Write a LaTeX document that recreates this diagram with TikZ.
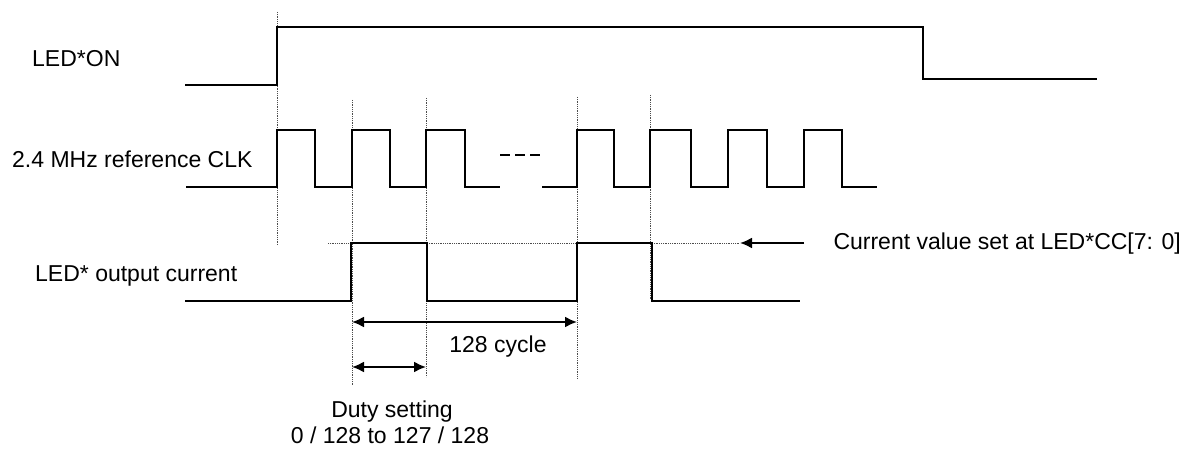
\documentclass[tikz,border=0pt]{standalone}
\usepackage{fontspec}
\setmainfont{Liberation Sans}
\usetikzlibrary{arrows.meta}
\begin{document}
\begin{tikzpicture}[x=1pt,y=-1pt,
  sig/.style={line width=2pt,line join=miter},
  guide/.style={densely dotted,line width=0.8pt,black!70},
  dimarrow/.style={line width=2pt,{Latex[length=12pt,width=11pt]}-{Latex[length=12pt,width=11pt]}},
  ptr/.style={line width=2pt,-{Latex[length=12pt,width=11pt]}},
  lbl/.style={inner sep=0pt,font=\fontsize{23}{26}\selectfont}]
\useasboundingbox (0,0) rectangle (1189,449);
% guide lines
\draw[guide] (277,12) -- (277,245);
\draw[guide] (352,100) -- (352,385);
\draw[guide] (426,98) -- (426,377);
\draw[guide] (577,97) -- (577,379);
\draw[guide] (650,95) -- (650,300);
\draw[guide] (328,243) -- (740,243);
% LED*ON
\draw[sig] (185,85) -- (277,85) -- (277,27) -- (923,27) -- (923,79) -- (1097,79);
% clock
\draw[sig] (186,187) -- (277,187) -- (277,130) -- (315,130) -- (315,187) -- (352,187) -- (352,130) -- (390,130) -- (390,187) -- (426,187) -- (426,130) -- (465,130) -- (465,187) -- (500,187);
\draw[line width=1.5pt,dash pattern=on 10pt off 5pt] (500,155) -- (542,155);
\draw[sig] (542,187) -- (577,187) -- (577,130) -- (614,130) -- (614,187) -- (650,187) -- (650,130) -- (691,130) -- (691,187) -- (728,187) -- (728,130) -- (767,130) -- (767,187) -- (804,187) -- (804,130) -- (842,130) -- (842,187) -- (877,187);
% LED output current
\draw[sig] (185,301) -- (351,301) -- (351,243) -- (427,243) -- (427,301) -- (577,301) -- (577,243) -- (652,243) -- (652,301) -- (800,301);
% labels
\node[lbl,anchor=base west] (lon) at (32,67) {LED*ON};
\node[lbl,anchor=base west] (lclk) at (12,168) {2.4 MHz reference CLK};
\node[lbl,anchor=base west] (lout) at (35,281) {LED* output current};
\node[lbl,anchor=base east] (lcur) at (1181,250) {Current value set at LED*CC[7: 0]};
\node[lbl,anchor=base] (lcyc) at (498,352) {128 cycle};
\node[lbl,anchor=base] (lduty) at (392,417) {Duty setting};
\node[lbl,anchor=base] (lrange) at (390,443) {0 / 128 to 127 / 128};
% arrows
\coordinate (ptrA) at (804,243);
\coordinate (ptrB) at (740,243);
\draw[ptr] (ptrA) -- (ptrB);
\coordinate (cycA) at (352,322);
\coordinate (cycB) at (577,322);
\draw[dimarrow] (cycA) -- (cycB);
\coordinate (dutyA) at (352,367);
\coordinate (dutyB) at (426,367);
\draw[dimarrow] (dutyA) -- (dutyB);
\end{tikzpicture}
\end{document}
